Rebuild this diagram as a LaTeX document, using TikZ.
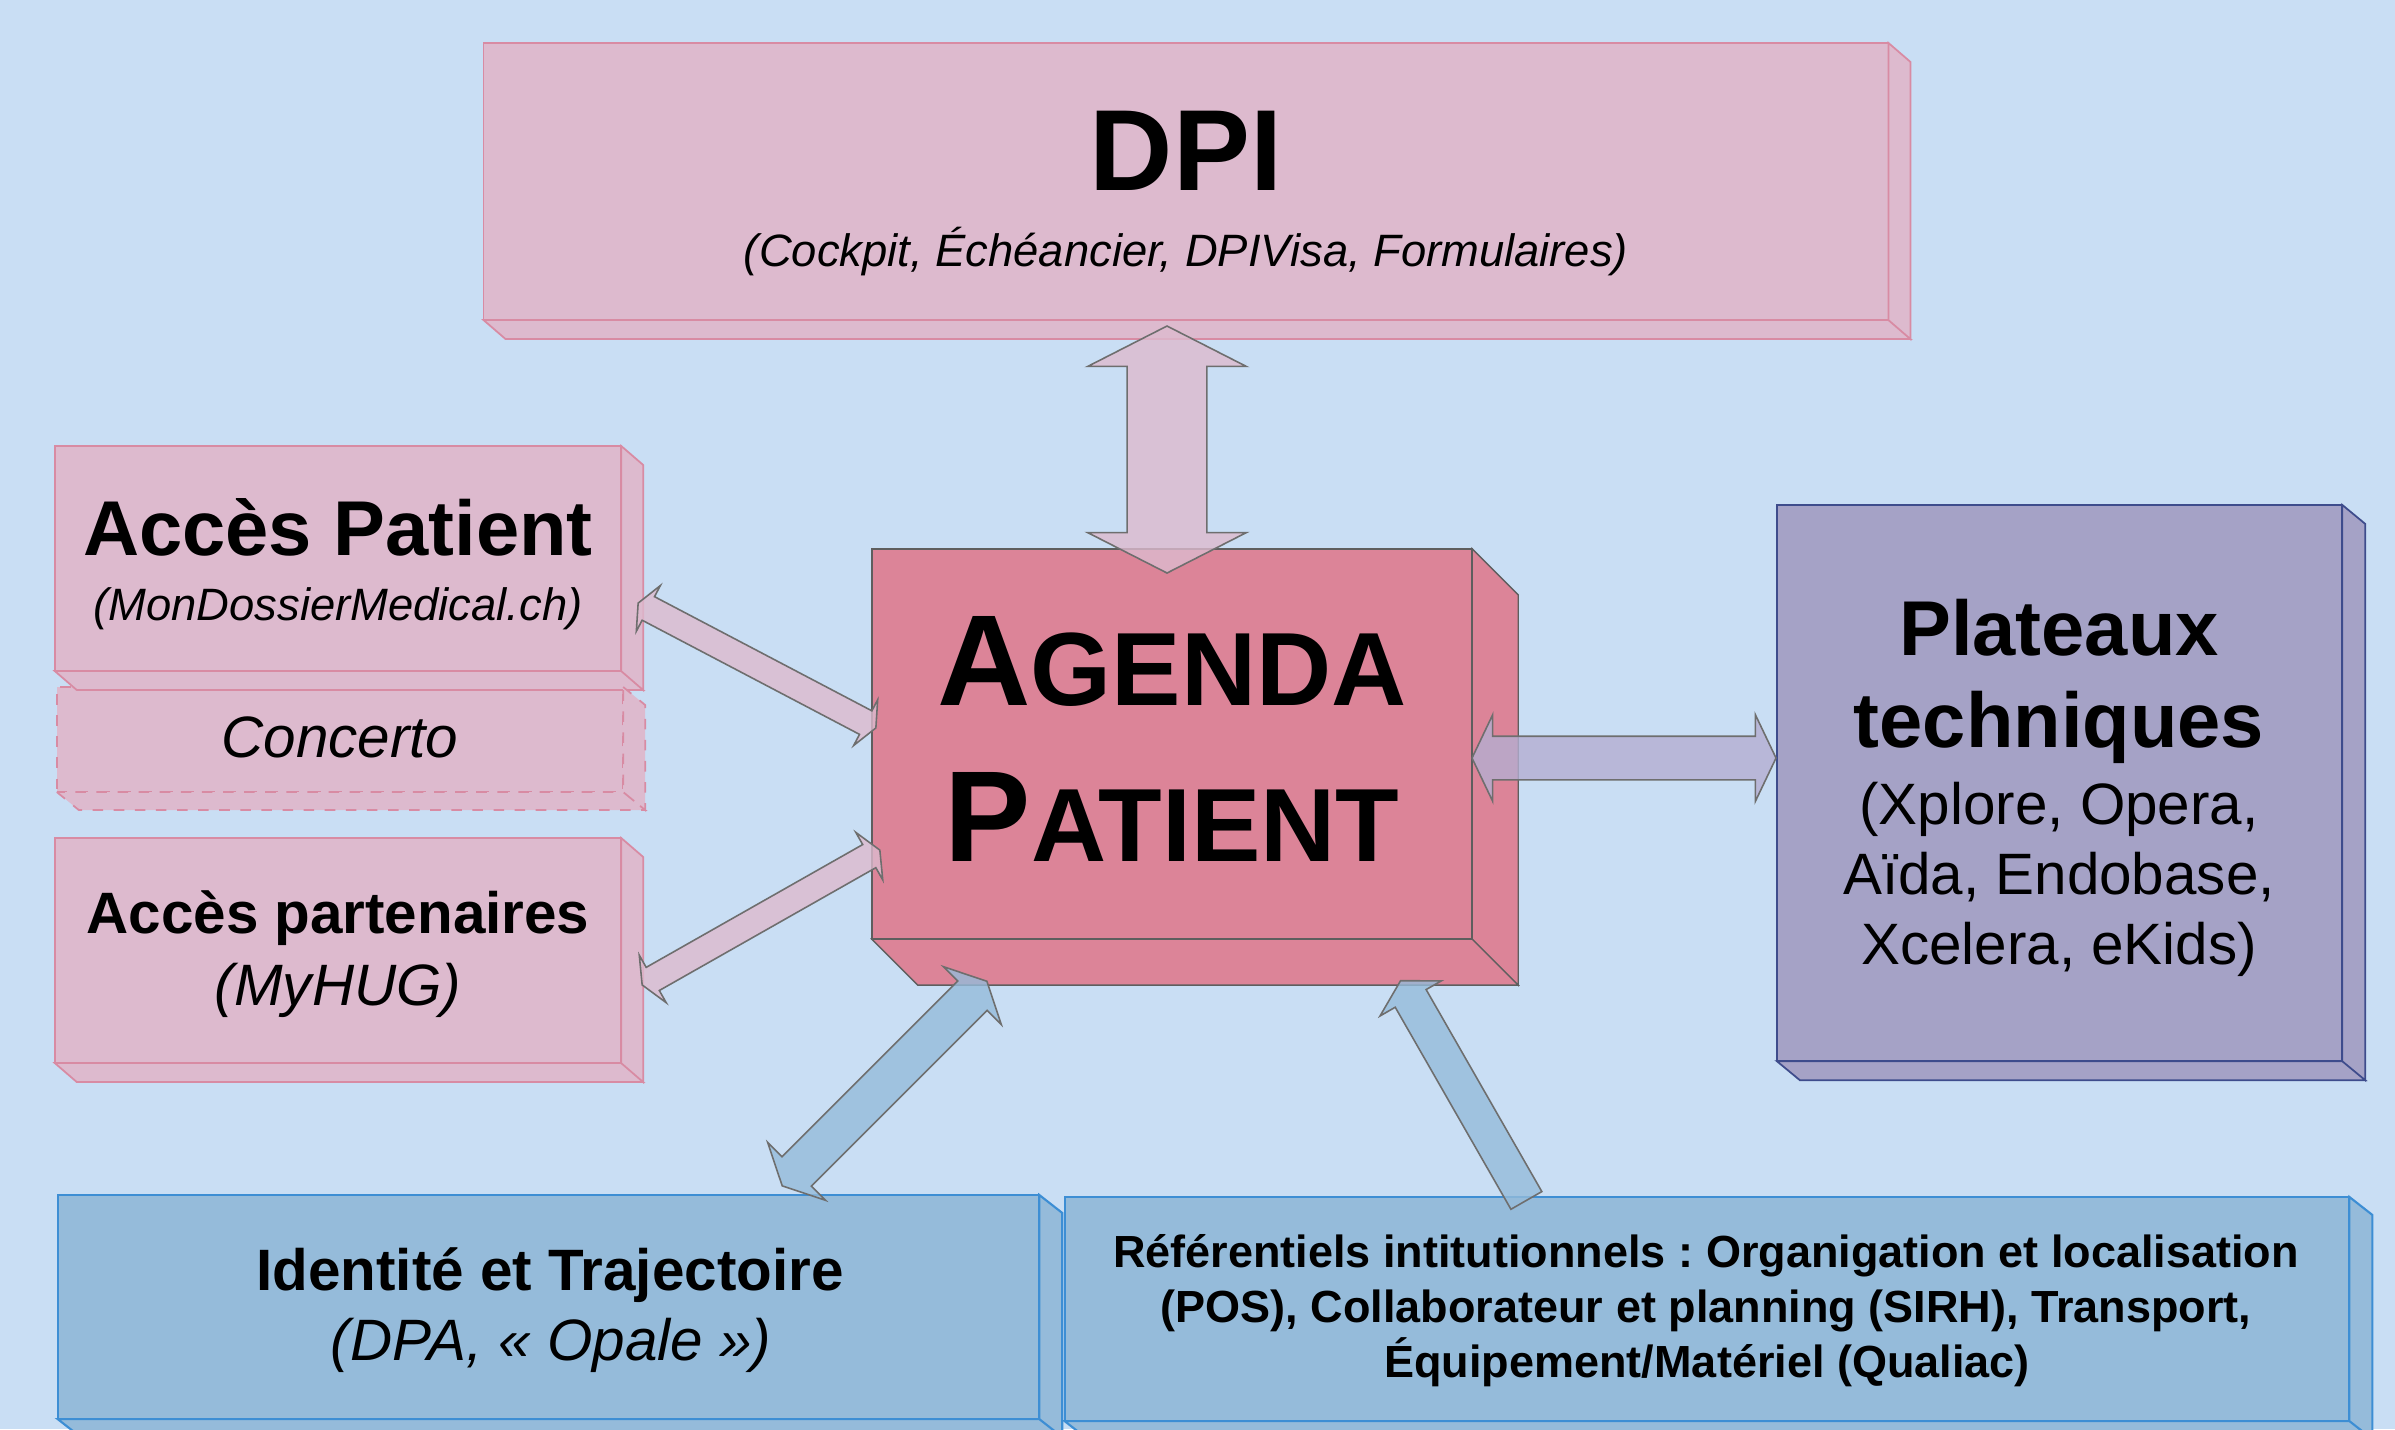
\documentclass[tikz,border=0pt]{standalone}
\usepackage{fontspec}
\setmainfont{Liberation Sans}
\usetikzlibrary{calc,shapes.arrows}
\frenchspacing

\definecolor{bgblue}{HTML}{C9DEF4}
\definecolor{boxpink}{HTML}{DDBACE}
\definecolor{linepink}{HTML}{D88BA3}
\definecolor{agendared}{HTML}{DC8498}
\definecolor{agendaline}{HTML}{5E5E5E}
\definecolor{platmauve}{HTML}{A5A2C6}
\definecolor{platline}{HTML}{3E4C8C}
\definecolor{boxblue}{HTML}{95BBDA}
\definecolor{lineblue}{HTML}{3D8ED4}
\definecolor{arrowline}{HTML}{6E6E6E}
\definecolor{arrowmauve}{HTML}{B4AED1}

\newcommand{\initcap}[1]{{\fontsize{36.8pt}{44pt}\selectfont #1}}

\tikzset{
  box/.style={inner sep=0pt, outer sep=0pt},
  pinkface/.style={fill=boxpink, draw=linepink, line width=0.5pt},
  agendaface/.style={fill=agendared, draw=agendaline, line width=0.4pt},
  platface/.style={fill=platmauve, draw=platline, line width=0.5pt},
  blueface/.style={fill=boxblue, draw=lineblue, line width=0.6pt},
  txt/.style={anchor=base, inner sep=0pt},
  dpititle/.style={txt, font=\fontsize{32.8pt}{38pt}\selectfont\bfseries},
  bigbold/.style={txt, font=\fontsize{22.1pt}{26pt}\selectfont\bfseries},
  midbold/.style={txt, font=\fontsize{16.6pt}{20pt}\selectfont\bfseries},
  midit/.style={txt, font=\fontsize{16.6pt}{20pt}\selectfont\itshape},
  midrm/.style={txt, font=\fontsize{16.6pt}{20pt}\selectfont},
  smallit/.style={txt, font=\fontsize{12.9pt}{15pt}\selectfont\itshape},
  smallbold/.style={txt, font=\fontsize{12.8pt}{15pt}\selectfont\bfseries},
  agenda/.style={txt, font=\fontsize{29.6pt}{44pt}\selectfont\bfseries},
  arrowbase/.style={draw=arrowline, line width=0.45pt, fill opacity=0.8, inner xsep=0pt, minimum width=0pt},
  blockarrow/.style={to path={let \p1=($(\tikztotarget)-(\tikztostart)$), \n1={atan2(\y1,\x1)}, \n2={veclen(\x1,\y1)}
    in node[arrowbase, #1, rotate=\n1, minimum height=\n2] at ($(\tikztostart)!0.5!(\tikztotarget)$) {}}},
}

\begin{document}
\begin{tikzpicture}
  [x=0.01cm, y=-0.01cm]
  \useasboundingbox (0,0) rectangle (2395,1429);
  \clip (0,0) rectangle (2395,1429);
  \fill[bgblue] (0,0) rectangle (2395,1429);
  % boxes
  \node[box, pinkface, minimum width=14.04cm, minimum height=2.77cm](1) at (1186,181.5) {};
  \node[box, pinkface, minimum width=5.66cm, minimum height=2.25cm](2) at (338,558.5) {};
  \node[box, pinkface, dashed, minimum width=5.66cm, minimum height=1.05cm](3) at (340,739.5) {};
  \node[box, pinkface, minimum width=5.66cm, minimum height=2.25cm](4) at (338,950.5) {};
  \node[box, agendaface, minimum width=6cm, minimum height=3.9cm](5) at (1172,744) {};
  \node[box, platface, minimum width=5.65cm, minimum height=5.56cm](6) at (2059.5,783) {};
  \node[box, blueface, minimum width=9.81cm, minimum height=2.24cm](7) at (548.5,1307) {};
  \node[box, blueface, minimum width=12.84cm, minimum height=2.24cm](8) at (1707,1309) {};
  % depth
  \draw[pinkface](1.north east) -- ++(22,19) -- ($(1.south east)+(22,19)$) -- (1.south east) -- cycle
    (1.south west) -- ++(22,19) -- ($(1.south east)+(22,19)$) -- (1.south east) -- cycle;
  \draw[pinkface](2.north east) -- ++(22,19) -- ($(2.south east)+(22,19)$) -- (2.south east) -- cycle
    (2.south west) -- ++(22,19) -- ($(2.south east)+(22,19)$) -- (2.south east) -- cycle;
  \draw[pinkface, dashed](3.north east) -- ++(22,18) -- ($(3.south east)+(22,18)$) -- (3.south east) -- cycle
    (3.south west) -- ++(22,18) -- ($(3.south east)+(22,18)$) -- (3.south east) -- cycle;
  \draw[pinkface](4.north east) -- ++(22,19) -- ($(4.south east)+(22,19)$) -- (4.south east) -- cycle
    (4.south west) -- ++(22,19) -- ($(4.south east)+(22,19)$) -- (4.south east) -- cycle;
  \draw[agendaface](5.north east) -- ++(46,46) -- ($(5.south east)+(46,46)$) -- (5.south east) -- cycle
    (5.south west) -- ++(46,46) -- ($(5.south east)+(46,46)$) -- (5.south east) -- cycle;
  \draw[platface](6.north east) -- ++(23,19) -- ($(6.south east)+(23,19)$) -- (6.south east) -- cycle
    (6.south west) -- ++(23,19) -- ($(6.south east)+(23,19)$) -- (6.south east) -- cycle;
  \draw[blueface](7.north east) -- ++(23,18) -- ($(7.south east)+(23,18)$) -- (7.south east) -- cycle
    (7.south west) -- ++(23,18) -- ($(7.south east)+(23,18)$) -- (7.south east) -- cycle;
  \draw[blueface](8.north east) -- ++(23,18) -- ($(8.south east)+(23,18)$) -- (8.south east) -- cycle
    (8.south west) -- ++(23,18) -- ($(8.south east)+(23,18)$) -- (8.south east) -- cycle;
  % texts
  \node[dpititle](1a) at (1186,190) {DPI};
  \node[smallit](1b) at (1186,266) {(Cockpit, Échéancier, DPIVisa, Formulaires)};
  \node[bigbold](2a) at (338,555) {Accès Patient};
  \node[smallit](2b) at (338,620) {(MonDossierMedical.ch)};
  \node[midit](3a) at (340,757) {Concerto};
  \node[midbold](4a) at (338,933) {Accès partenaires};
  \node[midit](4b) at (338,1005) {(MyHUG)};
  \node[agenda](5a) at (1172,705) {\initcap{A}GENDA};
  \node[agenda](5b) at (1172,861) {\initcap{P}ATIENT};
  \node[bigbold](6a) at (2059,655) {Plateaux};
  \node[bigbold](6b) at (2059,747) {techniques};
  \node[midrm](6c) at (2059,824) {(Xplore, Opera,};
  \node[midrm](6d) at (2059,894) {Aïda, Endobase,};
  \node[midrm](6e) at (2059,964) {Xcelera, eKids)};
  \node[midbold](7a) at (550,1290) {Identité et Trajectoire};
  \node[midit](7b) at (551,1360) {(DPA, « Opale »)};
  \node[smallbold](8a) at (1706,1267) {Référentiels intitutionnels : Organigation et localisation};
  \node[smallbold](8b) at (1706,1322) {(POS), Collaborateur et planning (SIRH), Transport,};
  \node[smallbold](8c) at (1707,1377) {Équipement/Matériel (Qualiac)};
  % arrows
  \coordinate(a1) at (1167,326);
  \coordinate(a2) at (1167,573);
  \coordinate(b1) at (1472,758);
  \coordinate(b2) at (1776,758);
  \coordinate(c1) at (638,603);
  \coordinate(c2) at (876,728);
  \coordinate(d1) at (642,985);
  \coordinate(d2) at (880,850);
  \coordinate(e1) at (782,1186);
  \coordinate(e2) at (987,981);
  \coordinate(f1) at (1529,1205);
  \coordinate(f2) at (1403,985);
  \path(a1) to[blockarrow={double arrow, fill=boxpink, inner ysep=0.39cm, double arrow head extend=0.395cm, double arrow tip angle=126}] (a2);
  \path(b1) to[blockarrow={double arrow, fill=arrowmauve, inner ysep=0.21cm, double arrow head extend=0.215cm, double arrow tip angle=129}] (b2);
  \path(c1) to[blockarrow={double arrow, fill=boxpink, inner ysep=0.125cm, double arrow head extend=0.125cm, double arrow tip angle=132}] (c2);
  \path(d1) to[blockarrow={double arrow, fill=boxpink, inner ysep=0.125cm, double arrow head extend=0.14cm, double arrow tip angle=132}] (d2);
  \path(e1) to[blockarrow={double arrow, fill=boxblue, inner ysep=0.2cm, double arrow head extend=0.2cm, double arrow tip angle=127}] (e2);
  \path(f1) to[blockarrow={single arrow, fill=boxblue, inner ysep=0.17cm, single arrow head extend=0.175cm, single arrow tip angle=120}] (f2);
\end{tikzpicture}
\end{document}
